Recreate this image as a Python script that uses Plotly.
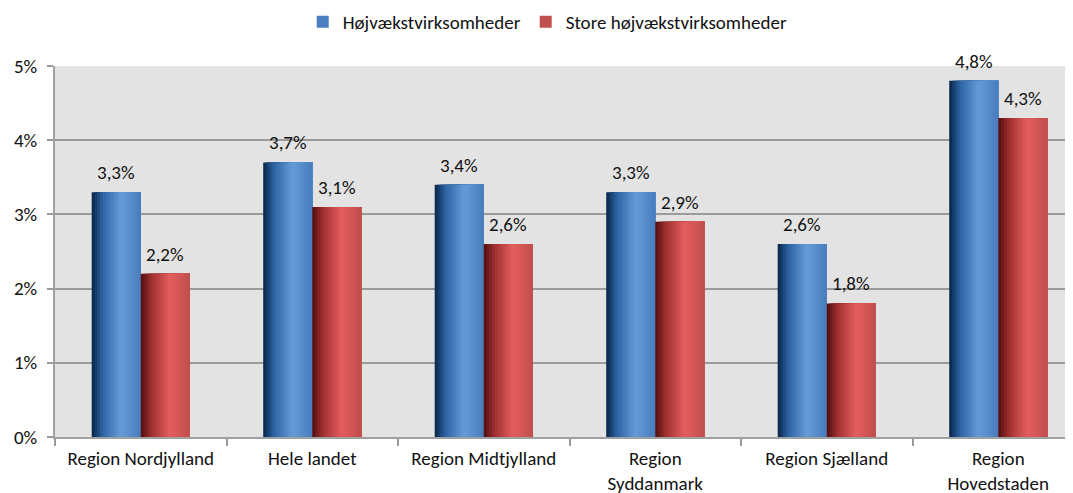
import plotly.graph_objects as go

categories = ["Region Nordjylland", "Hele landet", "Region Midtjylland",
              "Region<br>Syddanmark", "Region Sjælland", "Region<br>Hovedstaden"]
hoejvaekst = [3.3, 3.7, 3.4, 3.3, 2.6, 4.8]
store_hoejvaekst = [2.2, 3.1, 2.6, 2.9, 1.8, 4.3]
series_names = ["Højvækstvirksomheder", "Store højvækstvirksomheder"]
y_ticks = [0, 1, 2, 3, 4, 5]
y_ticktext = ["0%", "1%", "2%", "3%", "4%", "5%"]

FONT = "Carlito, Lato, 'Open Sans', sans-serif"
FS = 19
FS_LEG = 19
BAR_W = 0.286
N_STRIPS = 18

blue_stops = [(0.0, (8, 36, 70)), (0.22, (45, 100, 165)), (0.6, (102, 155, 215)), (1.0, (72, 124, 190))]
red_stops = [(0.0, (80, 14, 14)), (0.22, (160, 48, 48)), (0.6, (228, 94, 94)), (1.0, (192, 78, 76))]


def grad(stops, t):
    for (p0, c0), (p1, c1) in zip(stops[:-1], stops[1:]):
        if p0 <= t <= p1:
            f = (t - p0) / (p1 - p0) if p1 > p0 else 0
            c = [round(a + (b - a) * f) for a, b in zip(c0, c1)]
            return f"rgb({c[0]},{c[1]},{c[2]})"
    c = stops[-1][1]
    return f"rgb({c[0]},{c[1]},{c[2]})"


fig = go.Figure()
sw = BAR_W / N_STRIPS
for si, (vals, stops, base_off, legcol) in enumerate([
        (hoejvaekst, blue_stops, -BAR_W, "#4a7ebf"),
        (store_hoejvaekst, red_stops, 0.0, "#c0504d")]):
    for k in range(N_STRIPS):
        t = (k + 0.5) / N_STRIPS
        last = k == N_STRIPS - 1
        fig.add_trace(go.Bar(
            x=categories, y=vals,
            width=BAR_W - k * sw, offset=base_off + k * sw,
            marker=dict(color=legcol if last else grad(stops, t), line=dict(width=0), opacity=1),
            name=series_names[si], legendgroup=series_names[si],
            showlegend=last, hoverinfo="skip",
        ))

annotations = []
for si, vals in enumerate([hoejvaekst, store_hoejvaekst]):
    for i, v in enumerate(vals):
        xpos = i - BAR_W / 2 if si == 0 else i + BAR_W / 2
        annotations.append(dict(
            x=xpos, y=v, xref="x", yref="y", yanchor="bottom", yshift=6,
            text=f"{v:.1f}".replace(".", ",") + "%", showarrow=False,
            font=dict(family=FONT, size=FS, color="#111"),
        ))

# page body has an 8px margin; the figure fills the rest of the window
FIG_W, FIG_H = 1065, 485
plot_left = 47
plot_w = FIG_W - plot_left
cat_px = 171.5

fig.update_layout(
    width=FIG_W, height=FIG_H,
    margin=dict(l=plot_left, r=0, t=58, b=56, pad=0, autoexpand=False),
    paper_bgcolor="white", plot_bgcolor="#e3e3e3",
    barmode="overlay",
    font=dict(family=FONT, size=FS, color="#111"),
    legend=dict(orientation="h", x=0.484, xanchor="center", y=1.119, yanchor="middle",
                font=dict(family=FONT, size=FS_LEG, color="#111"), itemwidth=30,
                traceorder="normal"),
    annotations=annotations,
    xaxis=dict(type="category", range=[-0.5, -0.5 + plot_w / cat_px],
               tickson="boundaries", ticks="outside", ticklen=7, tickcolor="#9a9a9a",
               tickwidth=1.5, showline=True, linecolor="#a0a0a0", linewidth=2,
               showgrid=False, automargin=False, ticklabelstandoff=3,
               tickfont=dict(family=FONT, size=FS, color="#111")),
    yaxis=dict(range=[0, 5], tickvals=y_ticks, ticktext=y_ticktext, ticks="outside",
               ticklen=6, tickcolor="#9a9a9a", tickwidth=1.5,
               showline=True, linecolor="#a0a0a0", linewidth=2,
               gridcolor="#9a9a9a", gridwidth=1.6, zeroline=False,
               automargin=False, ticklabelstandoff=6,
               tickfont=dict(family=FONT, size=FS, color="#111")),
)

fig.write_html("out.html")
